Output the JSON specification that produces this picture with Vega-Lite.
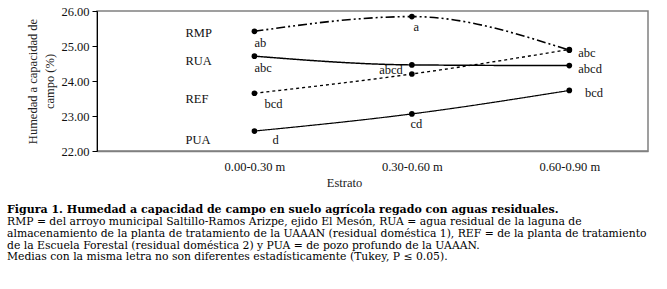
{
  "$schema": "https://vega.github.io/schema/vega-lite/v6.json",
  "width": 551,
  "height": 140,
  "padding": {"left": 7, "top": 5, "right": 5, "bottom": 2},
  "background": "white",
  "config": {
    "font": "Liberation Serif",
    "view": {"stroke": "#808080", "strokeWidth": 1.5},
    "axis": {"grid": false, "labelFont": "Liberation Serif", "titleFont": "Liberation Serif", "labelColor": "#111", "titleColor": "#222", "titleFontWeight": "normal", "labelFontSize": 12.5, "titleFontSize": 12.5}
  },
  "title": {
    "text": "Figura 1. Humedad a capacidad de campo en suelo agrícola regado con aguas residuales.",
    "subtitle": [
      "RMP = del arroyo municipal Saltillo-Ramos Arizpe, ejido El Mesón, RUA = agua residual de la laguna de",
      "almacenamiento de la planta de tratamiento de la UAAAN (residual doméstica 1), REF = de la planta de tratamiento",
      "de la Escuela Forestal (residual doméstica 2) y PUA = de pozo profundo de la UAAAN.",
      "Medias con la misma letra no son diferentes estadísticamente (Tukey, P ≤ 0.05)."
    ],
    "orient": "bottom",
    "anchor": "start",
    "frame": "group",
    "dx": -90,
    "offset": 15,
    "font": "DejaVu Serif",
    "fontSize": 11,
    "fontWeight": "bold",
    "color": "black",
    "subtitleFont": "DejaVu Serif",
    "subtitleFontSize": 10.8,
    "subtitleColor": "black",
    "subtitleLineHeight": 11.8,
    "subtitlePadding": 1
  },
  "data": {
    "values": [
      {"serie": "RMP", "estrato": "0.00-0.30 m", "valor": 25.42, "letra": "ab"},
      {"serie": "RMP", "estrato": "0.30-0.60 m", "valor": 25.84, "letra": "a"},
      {"serie": "RMP", "estrato": "0.60-0.90 m", "valor": 24.88, "letra": "abc"},
      {"serie": "RUA", "estrato": "0.00-0.30 m", "valor": 24.71, "letra": "abc"},
      {"serie": "RUA", "estrato": "0.30-0.60 m", "valor": 24.46, "letra": "abcd"},
      {"serie": "RUA", "estrato": "0.60-0.90 m", "valor": 24.44, "letra": "abcd"},
      {"serie": "REF", "estrato": "0.00-0.30 m", "valor": 23.65, "letra": "bcd"},
      {"serie": "REF", "estrato": "0.30-0.60 m", "valor": 24.2, "letra": ""},
      {"serie": "REF", "estrato": "0.60-0.90 m", "valor": 24.9, "letra": ""},
      {"serie": "PUA", "estrato": "0.00-0.30 m", "valor": 22.57, "letra": "d"},
      {"serie": "PUA", "estrato": "0.30-0.60 m", "valor": 23.06, "letra": "cd"},
      {"serie": "PUA", "estrato": "0.60-0.90 m", "valor": 23.73, "letra": "bcd"}
    ]
  },
  "encoding": {
    "x": {
      "field": "estrato", "type": "ordinal",
      "scale": {"type": "point", "domain": ["0.00-0.30 m", "0.30-0.60 m", "0.60-0.90 m"], "padding": 0.75, "align": 0.6667},
      "axis": {"title": "Estrato", "labelAngle": 0, "ticks": false, "tickSize": 0, "labelPadding": 9, "titlePadding": 4, "titleX": 247, "domainColor": "#808080", "domainWidth": 1.5}
    },
    "y": {
      "field": "valor", "type": "quantitative",
      "scale": {"domain": [22, 26], "nice": false, "zero": false},
      "axis": {"title": ["Humedad a capacidad de", "campo (%)"], "values": [22, 23, 24, 25, 26], "format": ".2f", "tickSize": 5, "tickColor": "black", "domainColor": "black", "labelPadding": 3, "titlePadding": 4, "titleLineHeight": 17}
    }
  },
  "layer": [
    {
      "mark": {"type": "line", "interpolate": "monotone", "color": "black"},
      "encoding": {
        "detail": {"field": "serie"},
        "strokeDash": {"field": "serie", "type": "nominal", "scale": {"domain": ["RMP", "RUA", "REF", "PUA"], "range": [[9, 3, 2, 3, 2, 3], [1, 0], [3, 3], [1, 0]]}, "legend": null},
        "strokeWidth": {"field": "serie", "type": "nominal", "scale": {"domain": ["RMP", "RUA", "REF", "PUA"], "range": [1.6, 1.2, 1.6, 3.5]}, "legend": null}
      }
    },
    {
      "mark": {"type": "point", "filled": true, "color": "black", "size": 32, "opacity": 1}
    },
    {
      "transform": [{"filter": "datum.estrato == '0.00-0.30 m' && datum.serie == 'RMP'"}],
      "mark": {"type": "text", "align": "left", "baseline": "middle", "dx": -69, "dy": 1.7, "fontSize": 12.5, "color": "#111"},
      "encoding": {"text": {"field": "serie"}}
    },
    {
      "transform": [{"filter": "datum.estrato == '0.00-0.30 m' && (datum.serie == 'RUA' || datum.serie == 'REF')"}],
      "mark": {"type": "text", "align": "left", "baseline": "middle", "dx": -69, "dy": 5.3, "fontSize": 12.5, "color": "#111"},
      "encoding": {"text": {"field": "serie"}}
    },
    {
      "transform": [{"filter": "datum.estrato == '0.00-0.30 m' && datum.serie == 'PUA'"}],
      "mark": {"type": "text", "align": "left", "baseline": "middle", "dx": -69, "dy": 9, "fontSize": 12.5, "color": "#111"},
      "encoding": {"text": {"field": "serie"}}
    },
    {
      "transform": [{"filter": "datum.estrato == '0.00-0.30 m' && (datum.serie == 'RMP' || datum.serie == 'RUA')"}],
      "mark": {"type": "text", "align": "left", "baseline": "middle", "dx": 0, "dy": 11.7, "fontSize": 12.5, "color": "#111"},
      "encoding": {"text": {"field": "letra"}}
    },
    {
      "transform": [{"filter": "datum.estrato == '0.00-0.30 m' && datum.serie == 'REF'"}],
      "mark": {"type": "text", "align": "left", "baseline": "middle", "dx": 10, "dy": 11, "fontSize": 12.5, "color": "#111"},
      "encoding": {"text": {"field": "letra"}}
    },
    {
      "transform": [{"filter": "datum.estrato == '0.00-0.30 m' && datum.serie == 'PUA'"}],
      "mark": {"type": "text", "align": "left", "baseline": "middle", "dx": 18, "dy": 9, "fontSize": 12.5, "color": "#111"},
      "encoding": {"text": {"field": "letra"}}
    },
    {
      "transform": [{"filter": "datum.estrato == '0.30-0.60 m' && (datum.serie == 'RMP' || datum.serie == 'PUA')"}],
      "mark": {"type": "text", "align": "center", "baseline": "middle", "dx": 4.5, "dy": 10.2, "fontSize": 12.5, "color": "#111"},
      "encoding": {"text": {"field": "letra"}}
    },
    {
      "transform": [{"filter": "datum.estrato == '0.30-0.60 m' && datum.serie == 'RUA'"}],
      "mark": {"type": "text", "align": "right", "baseline": "middle", "dx": -9, "dy": 5.4, "fontSize": 12.5, "color": "#111"},
      "encoding": {"text": {"field": "letra"}}
    },
    {
      "transform": [{"filter": "datum.estrato == '0.60-0.90 m' && (datum.serie == 'RMP' || datum.serie == 'RUA')"}],
      "mark": {"type": "text", "align": "left", "baseline": "middle", "dx": 9, "dy": 3, "fontSize": 12.5, "color": "#111"},
      "encoding": {"text": {"field": "letra"}}
    },
    {
      "transform": [{"filter": "datum.estrato == '0.60-0.90 m' && datum.serie == 'PUA'"}],
      "mark": {"type": "text", "align": "left", "baseline": "middle", "dx": 15.7, "dy": 2.2, "fontSize": 12.5, "color": "#111"},
      "encoding": {"text": {"field": "letra"}}
    }
  ]
}
